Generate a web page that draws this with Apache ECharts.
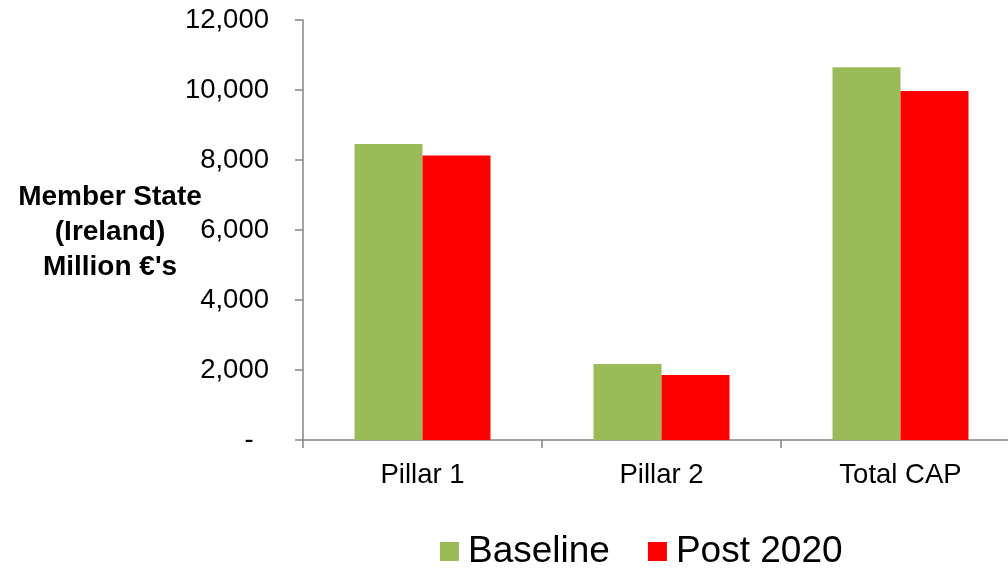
<!DOCTYPE html>
<html>
<head>
<meta charset="utf-8">
<script src="https://cdn.jsdelivr.net/npm/echarts@6/dist/echarts.min.js"></script>
<style>
html,body{margin:0;padding:0;background:#fff;overflow:hidden;width:1008px;height:568px;}
#chart{width:1020px;height:568px;}
</style>
</head>
<body>
<div id="chart"></div>
<script>
var categories = ['Pillar 1', 'Pillar 2', 'Total CAP'];
var baseline = [8460, 2170, 10650];
var post2020 = [8130, 1860, 9970];
var seriesNames = ['Baseline', 'Post 2020'];
var yTitle = "Member State\n(Ireland)\nMillion €'s";

var FONT = '"Liberation Sans", Arial, sans-serif';
var chart = echarts.init(document.getElementById('chart'), null, {renderer: 'canvas'});
chart.setOption({
  animation: false,
  backgroundColor: '#ffffff',
  textStyle: {fontFamily: FONT},
  grid: {left: 303, right: 0, top: 20, bottom: 128, containLabel: false, outerBoundsMode: 'none'},
  graphic: [{
    type: 'text',
    x: 110,
    y: 232,
    style: {
      text: yTitle,
      font: 'bold 28px "Liberation Sans", Arial, sans-serif',
      fill: '#000',
      align: 'center',
      verticalAlign: 'middle',
      lineHeight: 35
    }
  }],
  legend: {
    data: seriesNames,
    left: 440,
    top: 533,
    padding: 0,
    itemWidth: 19,
    itemHeight: 19,
    itemGap: 38,
    icon: 'rect',
    textStyle: {fontSize: 37, color: '#000', fontFamily: FONT, padding: [10, 0, 0, 4]}
  },
  xAxis: {
    type: 'category',
    data: categories,
    axisLine: {lineStyle: {color: '#868686', width: 1.5}},
    axisTick: {show: true, length: 8, lineStyle: {color: '#868686', width: 1.5}},
    axisLabel: {fontSize: 27.5, color: '#000', margin: 21, fontFamily: FONT}
  },
  yAxis: {
    type: 'value',
    min: 0,
    max: 12000,
    interval: 2000,
    splitLine: {show: false},
    axisLine: {show: true, lineStyle: {color: '#868686', width: 1.5}},
    axisTick: {show: true, length: 8, lineStyle: {color: '#868686', width: 1.5}},
    axisLabel: {
      fontSize: 27.5, color: '#000', margin: 34, fontFamily: FONT, padding: [10, 0, 0, 0],
      formatter: function (v) { return v === 0 ? '-  ' : v.toLocaleString('en-US'); }
    }
  },
  series: [
    {name: seriesNames[0], type: 'bar', data: baseline, barWidth: 68, barGap: '0%', itemStyle: {color: '#9BBB59'}},
    {name: seriesNames[1], type: 'bar', data: post2020, barWidth: 68, barGap: '0%', itemStyle: {color: '#FF0000'}}
  ]
});
</script>
</body>
</html>
